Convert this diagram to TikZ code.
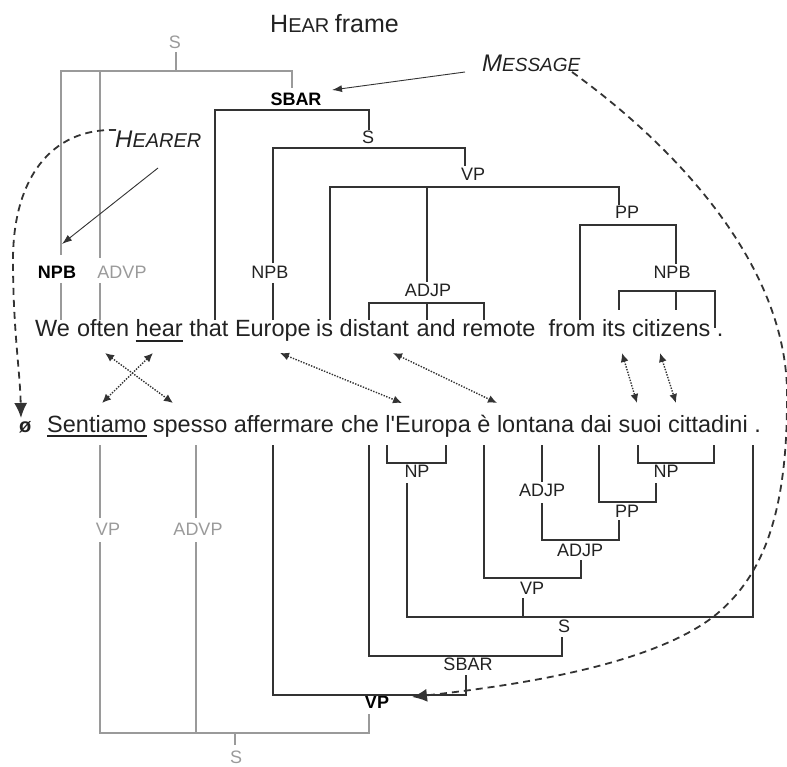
\documentclass[tikz,border=0pt]{standalone}
\usepackage{fontspec}
\setmainfont{Liberation Sans}
\usetikzlibrary{arrows.meta}
\definecolor{ink}{HTML}{222222}
\definecolor{tree}{HTML}{333333}
\definecolor{pale}{HTML}{9A9A9A}
\begin{document}
\begin{tikzpicture}[x=1pt,y=-1pt,
  blk/.style={draw=tree,line width=1.8pt},
  gry/.style={draw=pale,line width=1.5pt},
  lbl/.style={inner sep=0pt,text=ink,font=\fontsize{18}{18}\selectfont},
  blbl/.style={inner sep=0pt,text=black,font=\fontsize{18}{18}\selectfont\bfseries},
  glbl/.style={inner sep=0pt,text=pale,font=\fontsize{18}{18}\selectfont},
  wd/.style={anchor=base west,inner sep=0pt,text=ink,font=\fontsize{23.5}{23.5}\selectfont},
  algn/.style={draw=tree,line width=1.4pt,dash pattern=on 1.4pt off 1.4pt,{Latex[length=9pt,width=8pt]}-{Latex[length=9pt,width=8pt]}},
  pointer/.style={draw=tree,line width=0.9pt,-{Latex[length=10pt,width=7pt]}},
  bigdash/.style={draw=tree,line width=1.8pt,dash pattern=on 7pt off 5pt,-{Latex[length=15pt,width=13pt]}},
  uline/.style={draw=ink,line width=1.2pt}
]
\useasboundingbox (0,0) rectangle (787,767);

% ---------- title and frame element labels ----------
\node[anchor=base west,inner sep=0pt,text=ink] (title) at (270,33)
  {\fontsize{25}{25}\selectfont H\fontsize{20}{20}\selectfont EAR \fontsize{25}{25}\selectfont frame};
\node[anchor=base west,inner sep=0pt,text=ink] (hearer) at (115,148)
  {\itshape\fontsize{24}{24}\selectfont H\fontsize{20}{20}\selectfont EARER};
\node[anchor=base west,inner sep=0pt,text=ink] (message) at (482,72)
  {\itshape\fontsize{24}{24}\selectfont M\fontsize{19}{19}\selectfont ESSAGE};

% ---------- English sentence ----------
\node[wd] (We) at (35,337) {We};
\node[wd] (often) at (76.8,337) {often};
\node[wd] (hear) at (135.5,337) {hear};
\node[wd] (that) at (189.1,337) {that};
\node[wd] (Europe) at (234.8,337) {Europe};
\node[wd] (is) at (316,337) {is};
\node[wd] (distant) at (339.5,337) {distant};
\node[wd] (and) at (416.4,337) {and};
\node[wd] (remote) at (462.1,337) {remote};
\node[wd] (from) at (548.3,337) {from};
\node[wd] (its) at (601.8,337) {its};
\node[wd] (citizens) at (631.8,337) {citizens};
\node[wd] (dotE) at (716.7,337) {.};
\draw[uline] ([yshift=-4pt]hear.base west) -- ([yshift=-4pt]hear.base east);

% ---------- Italian sentence ----------
\node[wd,font=\fontsize{20}{20}\selectfont\bfseries] (null) at (19,432) {ø};
\node[wd] (Sentiamo) at (47,432) {Sentiamo};
\node[wd] (spesso) at (152.7,432) {spesso};
\node[wd] (affermare) at (233.7,432) {affermare};
\node[wd] (che) at (340.8,432) {che};
\node[wd] (lEuropa) at (385.2,432) {l\textquotesingle Europa};
\node[wd] (e) at (477.2,432) {è};
\node[wd] (lontana) at (496.8,432) {lontana};
\node[wd] (dai) at (580.4,432) {dai};
\node[wd] (suoi) at (618.3,432) {suoi};
\node[wd] (cittadini) at (667.9,432) {cittadini};
\node[wd] (dotI) at (754.1,432) {.};
\draw[uline] ([yshift=-4pt]Sentiamo.base west) -- ([yshift=-4pt]Sentiamo.base east);

% ---------- upper labels ----------
\node[glbl] (gS1) at (175,42) {S};
\node[blbl] (SBAR1) at (296,99) {SBAR};
\node[lbl] (S1) at (368,137) {S};
\node[lbl] (VP1) at (473,174) {VP};
\node[lbl] (PP1) at (627,212) {PP};
\node[blbl] (NPB1) at (57,272) {NPB};
\node[glbl] (ADVP1) at (122,272) {ADVP};
\node[lbl] (NPB2) at (270,272) {NPB};
\node[lbl] (NPB3) at (672,272) {NPB};
\node[lbl] (ADJP1) at (428,290) {ADJP};

% ---------- lower labels ----------
\node[lbl] (NP1) at (417,471) {NP};
\node[lbl] (NP2) at (666,471) {NP};
\node[lbl] (ADJP2) at (542,490) {ADJP};
\node[lbl] (PP2) at (627,511) {PP};
\node[lbl] (ADJP3) at (580,550) {ADJP};
\node[lbl] (VP2) at (532,588) {VP};
\node[lbl] (S2) at (564,626) {S};
\node[lbl] (SBAR2) at (468,664) {SBAR};
\node[blbl] (VP3) at (377,702) {VP};
\node[glbl] (gVP) at (108,529) {VP};
\node[glbl] (gADVP) at (198,529) {ADVP};
\node[glbl] (gS2) at (236,757) {S};

% ---------- upper gray tree ----------
\draw[gry] (61,255) -- (61,71) -- (292,71) -- (292,88);
\draw[gry] (100,71) -- (100,258);
\draw[gry] (176,71) -- (176,52);
\draw[gry] (61,283) -- (61,320);
\draw[gry] (100,283) -- (100,320);

% ---------- upper black tree ----------
\draw[blk] (215,320) -- (215,110) -- (369,110) -- (369,130);
\draw[blk] (273,263) -- (273,148) -- (465,148) -- (465,166);
\draw[blk] (273,283) -- (273,320);
\draw[blk] (330,320) -- (330,187) -- (619,187) -- (619,205);
\draw[blk] (427,187) -- (427,282);
\draw[blk] (580,320) -- (580,225) -- (676,225) -- (676,264);
\draw[blk] (619,310) -- (619,291) -- (715,291) -- (715,328);
\draw[blk] (676,291) -- (676,310);
\draw[blk] (369,320) -- (369,303) -- (484,303) -- (484,320);
\draw[blk] (427,303) -- (427,320);

% ---------- lower black tree ----------
\draw[blk] (387,445) -- (387,463) -- (446,463) -- (446,445);
\draw[blk] (407,483) -- (407,617) -- (753,617) -- (753,445);
\draw[blk] (484,445) -- (484,578) -- (581,578) -- (581,560);
\draw[blk] (542,445) -- (542,482);
\draw[blk] (542,503) -- (542,540) -- (619,540) -- (619,520);
\draw[blk] (599,445) -- (599,502) -- (656,502) -- (656,483);
\draw[blk] (638,445) -- (638,463) -- (714,463) -- (714,445);
\draw[blk] (523,598) -- (523,617);
\draw[blk] (562,637) -- (562,656) -- (369,656) -- (369,445);
\draw[blk] (466,675) -- (466,695) -- (273,695) -- (273,445);

% ---------- lower gray tree ----------
\draw[gry] (100,445) -- (100,518);
\draw[gry] (100,542) -- (100,733) -- (369,733) -- (369,714);
\draw[gry] (196,445) -- (196,518);
\draw[gry] (196,542) -- (196,733);
\draw[gry] (235,733) -- (235,745);

% ---------- frame element pointers ----------
\coordinate (hA) at (158,168);
\coordinate (hB) at (62,244);
\draw[pointer] (hA) -- (hB);
\coordinate (mA) at (465,72);
\coordinate (mB) at (332,90);
\draw[pointer] (mA) -- (mB);

\coordinate (hc0) at (116,130);
\coordinate (hc1) at (13,260);
\coordinate (hc2) at (21,418);
\draw[bigdash] (hc0) .. controls (50,128) and (13,180) .. (hc1)
  .. controls (13,330) and (20,370) .. (hc2);

\coordinate (mc0) at (572,72);
\coordinate (mc1) at (787,400);
\coordinate (mc2) at (713,617);
\coordinate (mc3) at (412,697);
\draw[bigdash] (mc0) .. controls (680,150) and (790,270) .. (mc1)
  .. controls (787,520) and (760,580) .. (mc2)
  .. controls (650,665) and (520,685) .. (mc3);

% ---------- word alignments ----------
\coordinate (a1) at (105,353); \coordinate (b1) at (173,403);
\coordinate (a2) at (153,353); \coordinate (b2) at (102,403);
\coordinate (a3) at (280,353); \coordinate (b3) at (402,403);
\coordinate (a4) at (393,353); \coordinate (b4) at (497,403);
\coordinate (a5) at (622,353); \coordinate (b5) at (637,403);
\coordinate (a6) at (660,353); \coordinate (b6) at (676,403);
\foreach \i in {1,...,6} \draw[algn] (a\i) -- (b\i);
\end{tikzpicture}
\end{document}
